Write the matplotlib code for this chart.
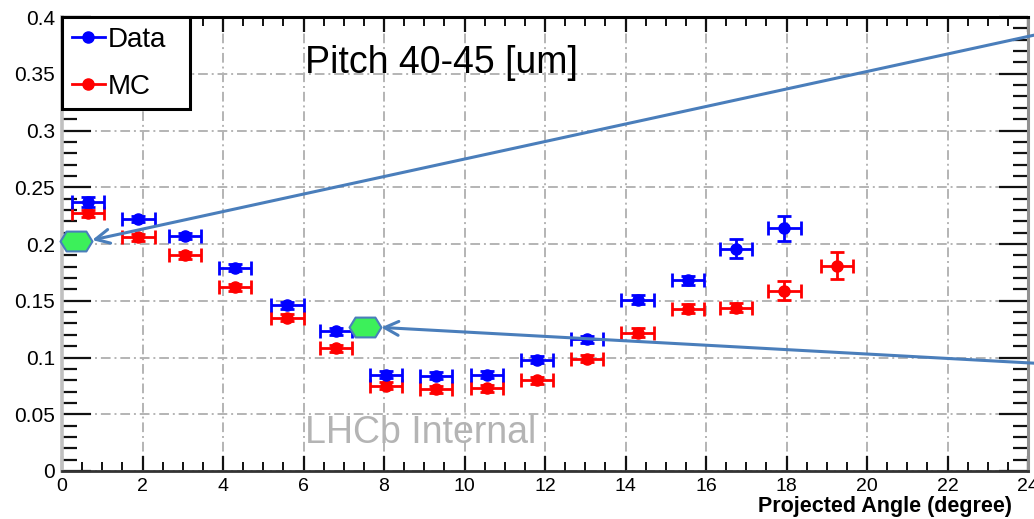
import matplotlib
matplotlib.use("Agg")
import matplotlib.pyplot as plt
from matplotlib.ticker import MultipleLocator, FuncFormatter
from matplotlib.lines import Line2D
from matplotlib.path import Path

plt.rcParams['font.family'] = ['Liberation Sans', 'DejaVu Sans']

# Resolution vs projected angle
data_x = [0.65, 1.9, 3.05, 4.3, 5.6, 6.8, 8.05, 9.3, 10.55, 11.8, 13.05, 14.3, 15.55, 16.75, 17.95]
data_y = [0.237, 0.222, 0.207, 0.179, 0.146, 0.123, 0.085, 0.084, 0.085, 0.098, 0.116, 0.151, 0.168, 0.196, 0.214]
data_yerr = [0.004, 0.003, 0.003, 0.003, 0.003, 0.003, 0.003, 0.003, 0.003, 0.003, 0.003, 0.004, 0.004, 0.008, 0.011]

mc_x = [0.65, 1.9, 3.05, 4.3, 5.6, 6.8, 8.05, 9.3, 10.55, 11.8, 13.05, 14.3, 15.55, 16.75, 17.95, 19.25]
mc_y = [0.227, 0.206, 0.190, 0.162, 0.135, 0.108, 0.075, 0.072, 0.073, 0.080, 0.099, 0.122, 0.143, 0.144, 0.159, 0.181]
mc_yerr = [0.003, 0.003, 0.003, 0.003, 0.003, 0.003, 0.003, 0.003, 0.003, 0.003, 0.003, 0.004, 0.004, 0.004, 0.008, 0.012]

bin_half_width = 0.4

# Highlighted points and the arrows pointing at them
marker_x = [0.34, 7.53]
marker_y = [0.2025, 0.127]
arrow_tip_x = [0.75, 7.93]
arrow_tip_y = [0.2035, 0.1265]
arrow_start_x = [24.15, 24.15]
arrow_start_y = [0.384, 0.095]

title_text = "Pitch 40-45 [um]"
watermark = "LHCb Internal"
xlabel = "Projected Angle (degree)"

fig = plt.figure(figsize=(10.34, 5.19), dpi=100)
W, H = 1034, 519
ax = fig.add_axes([62 / W, (H - 471) / H, 966 / W, 454 / H])

ax.set_xlim(0, 24)
ax.set_ylim(0, 0.4)

# grid
ax.grid(True, which='major', color='#b4b4b4', linestyle=(0, (5, 2, 1, 2)), linewidth=1.4, zorder=0)
ax.set_axisbelow(True)

ax.xaxis.set_major_locator(MultipleLocator(2))
ax.xaxis.set_minor_locator(MultipleLocator(0.5))
ax.yaxis.set_major_locator(MultipleLocator(0.05))
ax.yaxis.set_minor_locator(MultipleLocator(0.01))
ax.yaxis.set_major_formatter(FuncFormatter(lambda v, p: "%g" % round(v, 3)))
ax.xaxis.set_major_formatter(FuncFormatter(lambda v, p: "%g" % v))

ax.tick_params(axis='both', which='both', direction='in', top=True, right=True, color='#111111')
ax.tick_params(axis='y', which='major', length=21, width=1.6, labelsize=15, pad=5)
ax.tick_params(axis='y', which='minor', length=11, width=1.6)
ax.tick_params(axis='x', which='major', length=11, width=1.6, labelsize=14, pad=5)
ax.tick_params(axis='x', which='minor', length=6.5, width=1.4)

ax.spines['left'].set_color('#c0c0c0')
ax.spines['left'].set_linewidth(2.6)
ax.spines['bottom'].set_color('#333333')
ax.spines['bottom'].set_linewidth(2.0)
ax.spines['top'].set_color('#000000')
ax.spines['top'].set_linewidth(2.2)
ax.spines['right'].set_color('#909090')
ax.spines['right'].set_linewidth(2.2)

ax.errorbar(mc_x, mc_y, xerr=bin_half_width, yerr=mc_yerr, fmt='o', color='#ff0000',
            markersize=8, elinewidth=2, capsize=5, capthick=2, zorder=3)
ax.errorbar(data_x, data_y, xerr=bin_half_width, yerr=data_yerr, fmt='o', color='#0000ff',
            markersize=8, elinewidth=2, capsize=5, capthick=2, zorder=4)

# legend
handles = [Line2D([], [], color='#0000ff', marker='o', markersize=8, linewidth=2),
           Line2D([], [], color='#ff0000', marker='o', markersize=8, linewidth=2)]
leg = ax.legend(handles, ['Data', 'MC'], loc='upper left',
                bbox_to_anchor=(0, 1 - 90 / 454, 128 / 966, 90 / 454), mode='expand',
                fontsize=20, frameon=True, fancybox=False, borderaxespad=0,
                handlelength=1.2, handletextpad=0.1, labelspacing=0.75, borderpad=0.35)
leg.get_frame().set_edgecolor('black')
leg.get_frame().set_linewidth(2.2)
leg.get_frame().set_alpha(1)
leg.set_zorder(6)

ax.text((305 - 62) / 966, 1 - (73 - 17) / 454, title_text, transform=ax.transAxes,
        fontsize=27, ha='left', va='baseline', color='black', zorder=5)
ax.text((305 - 62) / 966, 1 - (443 - 17) / 454, watermark, transform=ax.transAxes,
        fontsize=27, ha='left', va='baseline', color='#b4b4b4', zorder=2)

fig.text(1012 / W, 1 - 512 / H, xlabel, fontsize=15.5, fontweight='bold', ha='right', va='baseline')

# hexagon markers
hexagon = Path([(-1, 0), (-0.62, 0.62), (0.62, 0.62), (1, 0), (0.62, -0.62), (-0.62, -0.62), (-1, 0)],
               [Path.MOVETO] + [Path.LINETO] * 5 + [Path.CLOSEPOLY])
ax.plot(marker_x, marker_y, linestyle='none', marker=hexagon, markersize=23,
        markerfacecolor='#3cf05a', markeredgecolor='#4a7ebb', markeredgewidth=1.5,
        clip_on=False, zorder=7)

for tx, ty, sx, sy in zip(arrow_tip_x, arrow_tip_y, arrow_start_x, arrow_start_y):
    ax.annotate('', xy=(tx, ty), xytext=(sx, sy), xycoords='data', textcoords='data',
                annotation_clip=False,
                arrowprops=dict(arrowstyle='->,head_length=1.0,head_width=0.5',
                                color='#4a7ebb', linewidth=2.2, shrinkA=0, shrinkB=0),
                zorder=8)

fig.savefig('out.png', dpi=100)
